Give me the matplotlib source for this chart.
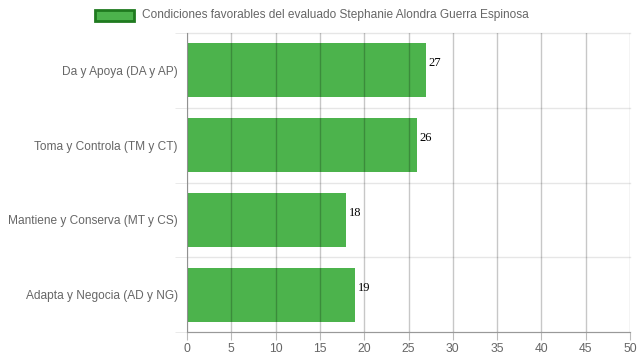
import matplotlib
matplotlib.use("Agg")
import matplotlib.pyplot as plt
from matplotlib.patches import Rectangle

categories = ["Da y Apoya (DA y AP)", "Toma y Controla (TM y CT)",
              "Mantiene y Conserva (MT y CS)", "Adapta y Negocia (AD y NG)"]
values = [27, 26, 18, 19]
legend_label = "Condiciones favorables del evaluado Stephanie Alondra Guerra Espinosa"
xticks = list(range(0, 51, 5))

W, H = 639, 360
fig = plt.figure(figsize=(W/100, H/100), dpi=100)
ax = fig.add_axes([187/W, 1-332/H, (630-187)/W, (332-33)/H])

n = len(categories)
ypos = list(range(n))
bar_color = "#4cb34c"
ax.barh(ypos, values, height=0.72, color=bar_color, zorder=2)
ax.set_ylim(n-0.5, -0.5)
ax.set_xlim(0, 50)

# vertical grid over bars
for t in xticks:
    ax.axvline(t, color=(0, 0, 0, 0.22), lw=1, zorder=3)
# horizontal category separators
for b in [i-0.5 for i in range(n+1)]:
    ax.axhline(b, color="#e6e6e6", lw=1, zorder=1, clip_on=False)

ax.set_xticks(xticks)
ax.set_xticklabels([str(t) for t in xticks], fontsize=8.7, color="#666666", family="Liberation Sans")
ax.set_yticks(ypos)
ax.set_yticklabels(categories, fontsize=8.6, color="#666666", family="Liberation Sans")
ax.set_yticks([i-0.5 for i in range(n+1)], minor=True)
ax.tick_params(axis="x", length=6, color="#bbbbbb", pad=2)
ax.tick_params(axis="y", which="major", length=0, pad=6.5)
ax.tick_params(axis="y", which="minor", length=9, color="#e6e6e6")
for s in ["top", "right"]:
    ax.spines[s].set_visible(False)
ax.spines["left"].set_color("#bbbbbb")
ax.spines["bottom"].set_color("#999999")

for y, v in zip(ypos, values):
    ax.annotate(str(v), (v, y), xytext=(1.5, 5), textcoords="offset points",
                ha="left", va="center", fontsize=9, family="Liberation Serif", color="black")

# legend
fig.patches.append(Rectangle((95/W, 1-21/H), 39/W, 11/H, transform=fig.transFigure,
                             facecolor=bar_color, edgecolor="#1f7a1f", lw=2))
fig.text(142/W, 1-15/H, legend_label, fontsize=8.6, color="#666666",
         family="Liberation Sans", va="center", ha="left")

fig.savefig("out.png", dpi=100)
